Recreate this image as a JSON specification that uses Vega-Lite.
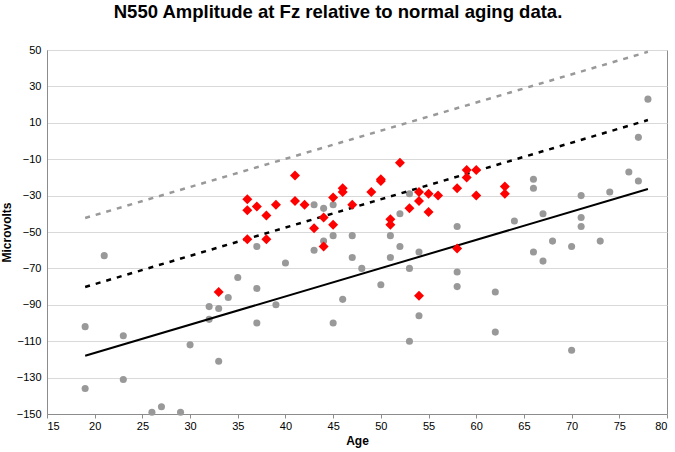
{
  "$schema": "https://vega.github.io/schema/vega-lite/v6.json",
  "width": 620,
  "height": 364,
  "autosize": {"type": "none"},
  "padding": {"left": 47, "top": 50, "right": 8, "bottom": 38},
  "background": "white",
  "title": {
    "text": "N550 Amplitude at Fz relative to normal aging data.",
    "font": "Liberation Sans",
    "fontSize": 18.5,
    "fontWeight": "bold",
    "color": "#000000",
    "anchor": "middle",
    "dx": -19,
    "offset": 23
  },
  "config": {
    "view": {"stroke": "#8c8c8c", "strokeWidth": 1},
    "axis": {
      "labelFont": "Liberation Sans",
      "labelFontSize": 11,
      "labelColor": "#000000",
      "titleFont": "Liberation Sans",
      "titleFontSize": 12,
      "titleFontWeight": "bold",
      "titleColor": "#000000",
      "domainColor": "#8c8c8c",
      "tickColor": "#8c8c8c",
      "gridColor": "#d9d9d9"
    }
  },
  "datasets": {
    "norms": [
      {"age": 19, "uv": -102}, {"age": 19, "uv": -136}, {"age": 21, "uv": -63},
      {"age": 23, "uv": -107}, {"age": 23, "uv": -131}, {"age": 26, "uv": -149},
      {"age": 27, "uv": -146}, {"age": 29, "uv": -149}, {"age": 30, "uv": -112},
      {"age": 32, "uv": -91}, {"age": 32, "uv": -98}, {"age": 33, "uv": -92},
      {"age": 33, "uv": -121}, {"age": 34, "uv": -86}, {"age": 35, "uv": -75},
      {"age": 37, "uv": -58}, {"age": 37, "uv": -81}, {"age": 37, "uv": -100},
      {"age": 39, "uv": -90}, {"age": 40, "uv": -67}, {"age": 43, "uv": -35},
      {"age": 43, "uv": -60}, {"age": 44, "uv": -37}, {"age": 44, "uv": -55},
      {"age": 45, "uv": -35}, {"age": 45, "uv": -52}, {"age": 45, "uv": -100},
      {"age": 46, "uv": -87}, {"age": 47, "uv": -52}, {"age": 47, "uv": -64},
      {"age": 48, "uv": -70}, {"age": 50, "uv": -79}, {"age": 51, "uv": -52},
      {"age": 51, "uv": -64}, {"age": 52, "uv": -40}, {"age": 52, "uv": -58},
      {"age": 53, "uv": -29}, {"age": 53, "uv": -70}, {"age": 53, "uv": -110},
      {"age": 54, "uv": -61}, {"age": 54, "uv": -96}, {"age": 58, "uv": -47},
      {"age": 58, "uv": -72}, {"age": 58, "uv": -80}, {"age": 62, "uv": -83},
      {"age": 62, "uv": -105}, {"age": 64, "uv": -44}, {"age": 66, "uv": -21},
      {"age": 66, "uv": -26}, {"age": 66, "uv": -61}, {"age": 67, "uv": -40},
      {"age": 67, "uv": -66}, {"age": 68, "uv": -55}, {"age": 70, "uv": -58},
      {"age": 70, "uv": -115}, {"age": 71, "uv": -30}, {"age": 71, "uv": -42},
      {"age": 71, "uv": -47}, {"age": 73, "uv": -55}, {"age": 74, "uv": -28},
      {"age": 76, "uv": -17}, {"age": 77, "uv": -22}, {"age": 77, "uv": 2},
      {"age": 78, "uv": 23}
    ],
    "patients": [
      {"age": 33, "uv": -83}, {"age": 36, "uv": -32}, {"age": 36, "uv": -38},
      {"age": 36, "uv": -54}, {"age": 37, "uv": -36}, {"age": 38, "uv": -41},
      {"age": 38, "uv": -54}, {"age": 39, "uv": -35}, {"age": 41, "uv": -19},
      {"age": 41, "uv": -33}, {"age": 42, "uv": -35}, {"age": 43, "uv": -48},
      {"age": 44, "uv": -42}, {"age": 44, "uv": -58}, {"age": 45, "uv": -31},
      {"age": 45, "uv": -46}, {"age": 46, "uv": -26}, {"age": 46, "uv": -28},
      {"age": 47, "uv": -35}, {"age": 49, "uv": -28}, {"age": 50, "uv": -21},
      {"age": 50, "uv": -22}, {"age": 51, "uv": -43}, {"age": 51, "uv": -46},
      {"age": 52, "uv": -12}, {"age": 53, "uv": -37}, {"age": 54, "uv": -28},
      {"age": 54, "uv": -33}, {"age": 54, "uv": -85}, {"age": 55, "uv": -29},
      {"age": 55, "uv": -39}, {"age": 56, "uv": -30}, {"age": 58, "uv": -26},
      {"age": 58, "uv": -59}, {"age": 59, "uv": -16}, {"age": 59, "uv": -20},
      {"age": 60, "uv": -16}, {"age": 60, "uv": -30}, {"age": 63, "uv": -25},
      {"age": 63, "uv": -29}
    ],
    "mean": [{"age": 19, "uv": -118}, {"age": 78, "uv": -26.4}],
    "sd1": [{"age": 19, "uv": -80.2}, {"age": 78, "uv": 11.5}],
    "sd2": [{"age": 19, "uv": -42.3}, {"age": 78, "uv": 49}]
  },
  "encoding": {
    "x": {
      "field": "age",
      "type": "quantitative",
      "scale": {"domain": [15, 80], "nice": false, "zero": false},
      "axis": {
        "title": "Age",
        "values": [15, 20, 25, 30, 35, 40, 45, 50, 55, 60, 65, 70, 75, 80],
        "grid": false,
        "ticks": true,
        "tickSize": 4,
        "labelPadding": 2,
        "titlePadding": 4
      }
    },
    "y": {
      "field": "uv",
      "type": "quantitative",
      "scale": {"domain": [-150, 50], "nice": false, "zero": false},
      "axis": {
        "title": "Microvolts",
        "values": [-150, -130, -110, -90, -70, -50, -30, -10, 10, 30, 50],
        "grid": true,
        "ticks": false,
        "labelPadding": 6,
        "titlePadding": 3
      }
    }
  },
  "layer": [
    {
      "data": {"name": "norms"},
      "mark": {"type": "point", "shape": "circle", "filled": true, "color": "#999999", "opacity": 1, "size": 50}
    },
    {
      "data": {"name": "sd2"},
      "mark": {"type": "line", "color": "#999999", "strokeWidth": 2.5, "strokeDash": [5, 6]}
    },
    {
      "data": {"name": "sd1"},
      "mark": {"type": "line", "color": "#000000", "strokeWidth": 2.5, "strokeDash": [5, 6]}
    },
    {
      "data": {"name": "mean"},
      "mark": {"type": "line", "color": "#000000", "strokeWidth": 2}
    },
    {
      "data": {"name": "patients"},
      "mark": {"type": "point", "shape": "diamond", "filled": true, "color": "#ff0000", "opacity": 1, "size": 100}
    }
  ]
}
